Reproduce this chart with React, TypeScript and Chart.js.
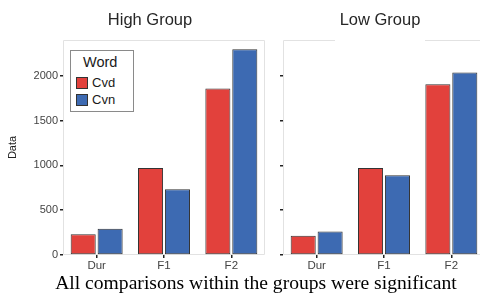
import React, { useEffect, useRef } from "react";
import { Chart, registerables } from "chart.js";

Chart.register(...registerables);

// ---- data ----
const categories = ["Dur", "F1", "F2"];
const seriesNames = ["Cvd", "Cvn"];
const highCvd = [233, 970, 1859];
const highCvn = [292, 733, 2296];
const lowCvd = [215, 970, 1907];
const lowCvn = [263, 889, 2037];
const yTicks = [0, 500, 1000, 1500, 2000];
const yMax = 2400;
const panelTitles = ["High Group", "Low Group"];
const legendTitle = "Word";
const yAxisTitle = "Data";
const caption = "All comparisons within the groups were significant";

// ---- style ----
const RED = "#e2413c";
const BLUE = "#3d6ab2";
const SANS = "'Liberation Sans', Arial, Helvetica, sans-serif";
const SERIF = "'Liberation Serif', 'Times New Roman', serif";

const framePlugin = {
  id: "panelFrame",
  beforeDatasetsDraw(chart: any, _args: any, opts: any) {
    const { ctx, chartArea: a } = chart;
    ctx.save();
    ctx.strokeStyle = "#e2e2e2";
    ctx.lineWidth = 1;
    const l = Math.round(a.left) + 0.5;
    const r = Math.round(a.right) - 0.5;
    const t = Math.round(a.top) + 0.5;
    const b = Math.round(a.bottom) - 0.5;
    ctx.beginPath();
    ctx.moveTo(l, b);
    ctx.lineTo(l, t);
    if (opts && opts.gap) {
      ctx.lineTo(a.left + opts.gap[0], t);
      ctx.moveTo(a.left + opts.gap[1], t);
    }
    ctx.lineTo(r, t);
    ctx.lineTo(r, b);
    ctx.lineTo(l, b);
    ctx.stroke();
    ctx.restore();
  },
};

function makeConfig(cvd: number[], cvn: number[], showLabels: boolean, axisWidth: number, padRight: number, gap?: number[]) {
  return {
    type: "bar" as const,
    data: {
      labels: categories,
      datasets: [
        {
          label: seriesNames[0],
          data: cvd,
          backgroundColor: RED,
          borderColor: "#333",
          borderWidth: 1,
          borderSkipped: false,
          categoryPercentage: 0.8,
          barPercentage: 0.93,
        },
        {
          label: seriesNames[1],
          data: cvn,
          backgroundColor: BLUE,
          borderColor: "#333",
          borderWidth: 1,
          borderSkipped: false,
          categoryPercentage: 0.8,
          barPercentage: 0.93,
        },
      ],
    },
    options: {
      responsive: false,
      animation: false,
      devicePixelRatio: 1,
      layout: { padding: { top: 40, right: padRight, left: 0, bottom: 0 } },
      plugins: {
        legend: { display: false },
        tooltip: { enabled: false },
        title: { display: false },
        panelFrame: { gap },
      },
      scales: {
        x: {
          offset: true,
          grid: {
            display: true,
            drawOnChartArea: false,
            drawTicks: true,
            tickLength: 3,
            color: "#222",
            lineWidth: 1.5,
            offset: false,
          },
          border: { display: false },
          ticks: {
            color: "#444",
            font: { size: 11.5, family: SANS },
            padding: 1,
            maxRotation: 0,
          },
          afterFit: (s: any) => {
            s.height = 20;
          },
        },
        y: {
          min: 0,
          max: yMax,
          afterBuildTicks: (s: any) => {
            s.ticks = yTicks.map((v) => ({ value: v }));
          },
          grid: {
            display: true,
            drawOnChartArea: false,
            drawTicks: true,
            tickLength: 3,
            color: "#222",
            lineWidth: 1.5,
          },
          border: { display: false },
          ticks: {
            display: showLabels,
            color: "#444",
            font: { size: 11, family: SANS },
            padding: 2,
            callback: (v: any) => String(v),
          },
          title: {
            display: showLabels,
            text: yAxisTitle,
            color: "#222",
            font: { size: 11, family: SANS },
            padding: { top: 6, bottom: 0 },
          },
          afterFit: (s: any) => {
            s.width = axisWidth;
          },
        },
      },
    },
    plugins: [framePlugin],
  };
}

function Panel(props: { left: number; width: number; cvd: number[]; cvn: number[]; showLabels: boolean; axisWidth: number; padRight: number; gap?: number[] }) {
  const ref = useRef<HTMLCanvasElement | null>(null);
  useEffect(() => {
    if (!ref.current) return;
    const chart = new Chart(ref.current, makeConfig(props.cvd, props.cvn, props.showLabels, props.axisWidth, props.padRight, props.gap) as any);
    return () => chart.destroy();
  }, []);
  return (
    <canvas
      ref={ref}
      width={props.width}
      height={275}
      style={{ position: "absolute", left: props.left, top: 0, width: props.width, height: 275 }}
    />
  );
}

const swatch = (color: string, top: number) => (
  <div
    style={{
      position: "absolute",
      left: 76,
      top,
      width: 10,
      height: 10,
      background: color,
      border: "1px solid #333",
    }}
  />
);

export default function App() {
  return (
    <div
      style={{
        position: "fixed",
        left: 0,
        top: 0,
        width: 480,
        height: 295,
        overflow: "hidden",
        background: "#fff",
        fontFamily: SANS,
      }}
    >
      <Panel left={0} width={272} cvd={highCvd} cvn={highCvn} showLabels={true} axisWidth={63} padRight={7} />
      <Panel left={270} width={220} cvd={lowCvd} cvn={lowCvn} showLabels={false} axisWidth={13} padRight={5} gap={[52, 142]} />

      <div style={{ position: "absolute", left: 90, top: 9, width: 120, textAlign: "center", fontSize: 16.5, lineHeight: "20px", color: "#262626", whiteSpace: "nowrap" }}>
        {panelTitles[0]}
      </div>
      <div style={{ position: "absolute", left: 320, top: 9, width: 120, textAlign: "center", fontSize: 16.5, lineHeight: "20px", color: "#262626", whiteSpace: "nowrap" }}>
        {panelTitles[1]}
      </div>

      <div
        style={{
          position: "absolute",
          left: 70,
          top: 50,
          width: 62,
          height: 60,
          border: "1px solid #8a8a8a",
          background: "#fff",
        }}
      />
      <div style={{ position: "absolute", left: 83, top: 54, fontSize: 14.5, lineHeight: "17px", color: "#1a1a1a", whiteSpace: "nowrap" }}>
        {legendTitle}
      </div>
      {swatch(RED, 77)}
      {swatch(BLUE, 94)}
      <div style={{ position: "absolute", left: 92, top: 75, fontSize: 13, lineHeight: "16px", color: "#1a1a1a" }}>{seriesNames[0]}</div>
      <div style={{ position: "absolute", left: 92, top: 92, fontSize: 13, lineHeight: "16px", color: "#1a1a1a" }}>{seriesNames[1]}</div>

      <div
        style={{
          position: "absolute",
          left: 0,
          width: 512,
          top: 273,
          textAlign: "center",
          fontFamily: SERIF,
          fontSize: 19.6,
          lineHeight: "20px",
          color: "#000",
          whiteSpace: "nowrap",
        }}
      >
        {caption}
      </div>
    </div>
  );
}
